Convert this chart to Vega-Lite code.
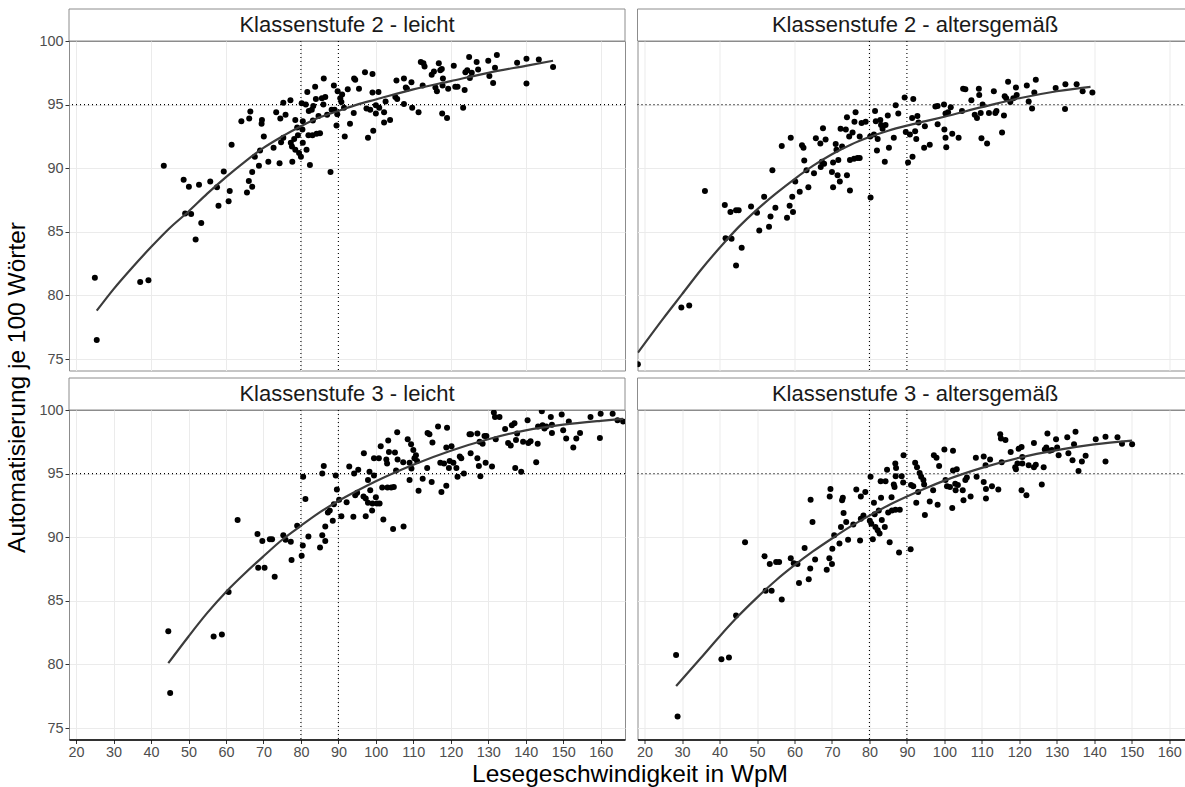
{
  "$schema": "https://vega.github.io/schema/vega-lite/v6.json",
  "padding": {"left": 4, "top": 8, "right": 0, "bottom": 0},
  "background": "white",
  "title": {"text": "Automatisierung je 100 Wörter", "orient": "left", "anchor": "middle", "fontSize": 24.5, "fontWeight": "normal", "color": "#000000", "offset": 8, "font": "Liberation Sans", "dx": 10},
  "config": {
    "font": "Liberation Sans",
    "view": {"stroke": "#8c8c8c", "strokeWidth": 1},
    "axis": {"gridColor": "#ebebeb", "gridWidth": 1, "labelColor": "#4d4d4d", "labelFontSize": 14.4, "labelFont": "Liberation Sans", "tickColor": "#333333", "tickSize": 4, "tickWidth": 1, "labelOverlap": false, "labelFlush": false, "labelBound": false, "labelSeparation": -30}
  },
  "datasets": {
    "vref": [{"x": 80}, {"x": 90}],
    "href": [{"y": 95}],
    "curves": [
      {"panel":"2L","x":25.5,"y":78.8},{"panel":"2L","x":30,"y":80.5},{"panel":"2L","x":35,"y":82.2},{"panel":"2L","x":40,"y":83.8},{"panel":"2L","x":45,"y":85.3},{"panel":"2L","x":50,"y":86.6},{"panel":"2L","x":55,"y":88.0},{"panel":"2L","x":60,"y":89.3},{"panel":"2L","x":65,"y":90.5},{"panel":"2L","x":70,"y":91.6},{"panel":"2L","x":75,"y":92.5},{"panel":"2L","x":80,"y":93.3},{"panel":"2L","x":85,"y":94.0},{"panel":"2L","x":90,"y":94.5},{"panel":"2L","x":95,"y":95.0},{"panel":"2L","x":100,"y":95.4},{"panel":"2L","x":110,"y":96.2},{"panel":"2L","x":120,"y":96.85},{"panel":"2L","x":130,"y":97.5},{"panel":"2L","x":140,"y":98.05},{"panel":"2L","x":147.3,"y":98.45},
      {"panel":"2A","x":18.2,"y":75.5},{"panel":"2A","x":25,"y":78.2},{"panel":"2A","x":30,"y":80.1},{"panel":"2A","x":35,"y":82.0},{"panel":"2A","x":41.4,"y":84.2},{"panel":"2A","x":45,"y":85.35},{"panel":"2A","x":50,"y":86.75},{"panel":"2A","x":55,"y":88.0},{"panel":"2A","x":60,"y":89.15},{"panel":"2A","x":65,"y":90.2},{"panel":"2A","x":70,"y":91.1},{"panel":"2A","x":75,"y":91.85},{"panel":"2A","x":80,"y":92.45},{"panel":"2A","x":85,"y":92.95},{"panel":"2A","x":90,"y":93.35},{"panel":"2A","x":95,"y":93.7},{"panel":"2A","x":100,"y":94.05},{"panel":"2A","x":110,"y":94.8},{"panel":"2A","x":120,"y":95.5},{"panel":"2A","x":130,"y":96.05},{"panel":"2A","x":139,"y":96.4},
      {"panel":"3L","x":44.6,"y":80.1},{"panel":"3L","x":50,"y":82.2},{"panel":"3L","x":55,"y":84.05},{"panel":"3L","x":60,"y":85.7},{"panel":"3L","x":65,"y":87.15},{"panel":"3L","x":70,"y":88.5},{"panel":"3L","x":75,"y":89.8},{"panel":"3L","x":80,"y":90.9},{"panel":"3L","x":85,"y":91.95},{"panel":"3L","x":90,"y":92.85},{"panel":"3L","x":95,"y":93.65},{"panel":"3L","x":100,"y":94.4},{"panel":"3L","x":110,"y":95.7},{"panel":"3L","x":120,"y":96.8},{"panel":"3L","x":130,"y":97.7},{"panel":"3L","x":140,"y":98.4},{"panel":"3L","x":150,"y":98.85},{"panel":"3L","x":160,"y":99.15},{"panel":"3L","x":166,"y":99.3},
      {"panel":"3A","x":28.4,"y":78.3},{"panel":"3A","x":35,"y":80.5},{"panel":"3A","x":40,"y":82.2},{"panel":"3A","x":45,"y":83.8},{"panel":"3A","x":50,"y":85.25},{"panel":"3A","x":55,"y":86.6},{"panel":"3A","x":60,"y":87.8},{"panel":"3A","x":65,"y":88.9},{"panel":"3A","x":70,"y":89.9},{"panel":"3A","x":75,"y":90.85},{"panel":"3A","x":80,"y":91.7},{"panel":"3A","x":85,"y":92.5},{"panel":"3A","x":90,"y":93.2},{"panel":"3A","x":95,"y":93.85},{"panel":"3A","x":100,"y":94.45},{"panel":"3A","x":110,"y":95.45},{"panel":"3A","x":120,"y":96.25},{"panel":"3A","x":130,"y":96.85},{"panel":"3A","x":140,"y":97.3},{"panel":"3A","x":150.1,"y":97.6}
    ],
    "points": [
      {"panel":"2L","x":25,"y":81.4},{"panel":"2L","x":25.5,"y":76.5},{"panel":"2L","x":37.1,"y":81.05},{"panel":"2L","x":39.3,"y":81.2},{"panel":"2L","x":43.4,"y":90.2},{"panel":"2L","x":48.7,"y":89.1},{"panel":"2L","x":50.1,"y":88.55},{"panel":"2L","x":49.1,"y":86.45},{"panel":"2L","x":50.7,"y":86.4},{"panel":"2L","x":51.9,"y":84.4},{"panel":"2L","x":52.8,"y":88.7},{"panel":"2L","x":53.4,"y":85.7},{"panel":"2L","x":55.8,"y":88.95},{"panel":"2L","x":57.6,"y":88.5},{"panel":"2L","x":59.4,"y":89.75},{"panel":"2L","x":58,"y":87.05},{"panel":"2L","x":60.7,"y":87.4},{"panel":"2L","x":61,"y":88.2},{"panel":"2L","x":61.5,"y":91.85},{"panel":"2L","x":64.1,"y":93.7},{"panel":"2L","x":65.6,"y":88.1},{"panel":"2L","x":66.1,"y":89},{"panel":"2L","x":66.5,"y":94.45},{"panel":"2L","x":66.2,"y":93.9},{"panel":"2L","x":67,"y":89.7},{"panel":"2L","x":67,"y":88.55},{"panel":"2L","x":67.7,"y":90.9},{"panel":"2L","x":68.8,"y":90.2},{"panel":"2L","x":69.1,"y":91.4},{"panel":"2L","x":69.6,"y":93.8},{"panel":"2L","x":69.5,"y":93.5},{"panel":"2L","x":70.1,"y":92.5},{"panel":"2L","x":71.3,"y":90.5},{"panel":"2L","x":72.7,"y":91.6},{"panel":"2L","x":73.4,"y":94.4},{"panel":"2L","x":74.3,"y":90.4},{"panel":"2L","x":74.5,"y":93.9},{"panel":"2L","x":75.3,"y":95.15},{"panel":"2L","x":75.9,"y":94.2},{"panel":"2L","x":74.7,"y":92.05},{"panel":"2L","x":75.3,"y":92.4},{"panel":"2L","x":77.2,"y":95.35},{"panel":"2L","x":77.3,"y":92},{"panel":"2L","x":77.7,"y":90.5},{"panel":"2L","x":78.2,"y":92.3},{"panel":"2L","x":78.5,"y":93.8},{"panel":"2L","x":79,"y":93.2},{"panel":"2L","x":77.6,"y":91.7},{"panel":"2L","x":78.5,"y":91.45},{"panel":"2L","x":79.5,"y":91.2},{"panel":"2L","x":79.2,"y":92.6},{"panel":"2L","x":80,"y":90.9},{"panel":"2L","x":80.2,"y":95.1},{"panel":"2L","x":80.5,"y":92},{"panel":"2L","x":80.4,"y":93.05},{"panel":"2L","x":80.5,"y":93.7},{"panel":"2L","x":81.3,"y":95},{"panel":"2L","x":81.5,"y":91.45},{"panel":"2L","x":81.7,"y":96},{"panel":"2L","x":82.1,"y":94.5},{"panel":"2L","x":82.4,"y":90.25},{"panel":"2L","x":82,"y":92.6},{"panel":"2L","x":82.9,"y":94.6},{"panel":"2L","x":83.1,"y":92.6},{"panel":"2L","x":83.2,"y":93.75},{"panel":"2L","x":83.3,"y":94.9},{"panel":"2L","x":83.8,"y":96.4},{"panel":"2L","x":84,"y":95.45},{"panel":"2L","x":84.2,"y":92.7},{"panel":"2L","x":84.7,"y":94.1},{"panel":"2L","x":85.1,"y":92.75},{"panel":"2L","x":85.6,"y":95.5},{"panel":"2L","x":86,"y":95},{"panel":"2L","x":86.1,"y":97.05},{"panel":"2L","x":86.5,"y":95.6},{"panel":"2L","x":87,"y":94.2},{"panel":"2L","x":87.9,"y":89.7},{"panel":"2L","x":88.2,"y":94.6},{"panel":"2L","x":88.8,"y":96.5},{"panel":"2L","x":89,"y":94.6},{"panel":"2L","x":89.5,"y":93.35},{"panel":"2L","x":89.7,"y":94.25},{"panel":"2L","x":89.8,"y":96.05},{"panel":"2L","x":90.5,"y":95.5},{"panel":"2L","x":91,"y":95.8},{"panel":"2L","x":90.8,"y":95.2},{"panel":"2L","x":91.5,"y":94.75},{"panel":"2L","x":91.7,"y":92.5},{"panel":"2L","x":92.5,"y":96.2},{"panel":"2L","x":93.1,"y":93.5},{"panel":"2L","x":94.2,"y":97.05},{"panel":"2L","x":94.5,"y":96.95},{"panel":"2L","x":94.1,"y":94.35},{"panel":"2L","x":95.5,"y":96.25},{"panel":"2L","x":97.1,"y":97.55},{"panel":"2L","x":97.5,"y":94.7},{"panel":"2L","x":97.9,"y":92.4},{"panel":"2L","x":98.5,"y":94.6},{"panel":"2L","x":99.1,"y":97.4},{"panel":"2L","x":99.3,"y":92.95},{"panel":"2L","x":99.1,"y":95.95},{"panel":"2L","x":100,"y":94.95},{"panel":"2L","x":100,"y":94.3},{"panel":"2L","x":100.7,"y":96},{"panel":"2L","x":100.9,"y":94.75},{"panel":"2L","x":102.2,"y":94.4},{"panel":"2L","x":102.2,"y":93.6},{"panel":"2L","x":102.6,"y":95.25},{"panel":"2L","x":103.8,"y":93.8},{"panel":"2L","x":105.2,"y":95.6},{"panel":"2L","x":105.5,"y":96.9},{"panel":"2L","x":105.7,"y":95.45},{"panel":"2L","x":107.5,"y":97.05},{"panel":"2L","x":107.5,"y":95.05},{"panel":"2L","x":108,"y":96.35},{"panel":"2L","x":108.3,"y":96.25},{"panel":"2L","x":109.5,"y":96.75},{"panel":"2L","x":109.7,"y":94.75},{"panel":"2L","x":111.4,"y":94.4},{"panel":"2L","x":112,"y":98.35},{"panel":"2L","x":112.7,"y":98.25},{"panel":"2L","x":113,"y":98},{"panel":"2L","x":112.5,"y":96.5},{"panel":"2L","x":114.9,"y":97.35},{"panel":"2L","x":115.5,"y":97.6},{"panel":"2L","x":115.9,"y":96.35},{"panel":"2L","x":116.3,"y":96.05},{"panel":"2L","x":116.8,"y":98.25},{"panel":"2L","x":117.2,"y":97.7},{"panel":"2L","x":117.6,"y":97.8},{"panel":"2L","x":117.9,"y":97.05},{"panel":"2L","x":117.7,"y":94.3},{"panel":"2L","x":117.8,"y":96.5},{"panel":"2L","x":119,"y":93.95},{"panel":"2L","x":119.3,"y":96.25},{"panel":"2L","x":120.8,"y":98.05},{"panel":"2L","x":121.2,"y":96.4},{"panel":"2L","x":121.8,"y":96.4},{"panel":"2L","x":123.3,"y":94.75},{"panel":"2L","x":123.7,"y":96.15},{"panel":"2L","x":123.9,"y":97.55},{"panel":"2L","x":124.4,"y":97.7},{"panel":"2L","x":124.9,"y":98.75},{"panel":"2L","x":125.1,"y":97.1},{"panel":"2L","x":125.6,"y":97.5},{"panel":"2L","x":126.9,"y":98.35},{"panel":"2L","x":127.3,"y":97.75},{"panel":"2L","x":130,"y":98.45},{"panel":"2L","x":130.3,"y":97.25},{"panel":"2L","x":131.3,"y":96.7},{"panel":"2L","x":131.8,"y":97.9},{"panel":"2L","x":132.3,"y":98.9},{"panel":"2L","x":137.7,"y":98.3},{"panel":"2L","x":140.2,"y":98.6},{"panel":"2L","x":140.2,"y":96.65},{"panel":"2L","x":143.5,"y":98.55},{"panel":"2L","x":147.3,"y":97.95},
      {"panel":"2A","x":18.2,"y":74.6},{"panel":"2A","x":29.8,"y":79.05},{"panel":"2A","x":31.9,"y":79.2},{"panel":"2A","x":36.1,"y":88.2},{"panel":"2A","x":41.4,"y":87.1},{"panel":"2A","x":42.9,"y":86.55},{"panel":"2A","x":44.4,"y":86.7},{"panel":"2A","x":45.1,"y":86.7},{"panel":"2A","x":41.6,"y":84.5},{"panel":"2A","x":43.2,"y":84.45},{"panel":"2A","x":45.9,"y":83.75},{"panel":"2A","x":44.4,"y":82.35},{"panel":"2A","x":48.4,"y":87},{"panel":"2A","x":50,"y":86.5},{"panel":"2A","x":50.6,"y":85.1},{"panel":"2A","x":51.9,"y":87.75},{"panel":"2A","x":53.2,"y":85.4},{"panel":"2A","x":53.6,"y":86.2},{"panel":"2A","x":54.1,"y":89.85},{"panel":"2A","x":54.9,"y":86.9},{"panel":"2A","x":56.6,"y":91.75},{"panel":"2A","x":59,"y":92.4},{"panel":"2A","x":58,"y":86.1},{"panel":"2A","x":58.7,"y":87.05},{"panel":"2A","x":59.4,"y":87.75},{"panel":"2A","x":59.6,"y":86.55},{"panel":"2A","x":60.2,"y":88.95},{"panel":"2A","x":61.4,"y":88.15},{"panel":"2A","x":62,"y":91.8},{"panel":"2A","x":62.4,"y":91.6},{"panel":"2A","x":62.6,"y":90.6},{"panel":"2A","x":63.2,"y":89.85},{"panel":"2A","x":63.7,"y":88.5},{"panel":"2A","x":65.2,"y":89.6},{"panel":"2A","x":65.7,"y":92.35},{"panel":"2A","x":66.9,"y":91.95},{"panel":"2A","x":67,"y":90.1},{"panel":"2A","x":67.3,"y":90.5},{"panel":"2A","x":67.9,"y":90.35},{"panel":"2A","x":68.3,"y":92.25},{"panel":"2A","x":67.6,"y":93.15},{"panel":"2A","x":70,"y":89.7},{"panel":"2A","x":70.3,"y":90.45},{"panel":"2A","x":70.3,"y":88.5},{"panel":"2A","x":71,"y":91.9},{"panel":"2A","x":71.2,"y":91.45},{"panel":"2A","x":71.5,"y":89.45},{"panel":"2A","x":71.7,"y":90.65},{"panel":"2A","x":72.1,"y":88.95},{"panel":"2A","x":72.3,"y":93.1},{"panel":"2A","x":72.7,"y":91.7},{"panel":"2A","x":73.7,"y":93.05},{"panel":"2A","x":74,"y":94},{"panel":"2A","x":74,"y":89.45},{"panel":"2A","x":74.8,"y":88.25},{"panel":"2A","x":74.6,"y":92.5},{"panel":"2A","x":74.8,"y":90.65},{"panel":"2A","x":75.5,"y":92.8},{"panel":"2A","x":76,"y":93.65},{"panel":"2A","x":76.3,"y":94.4},{"panel":"2A","x":75.9,"y":90.75},{"panel":"2A","x":76.8,"y":90.8},{"panel":"2A","x":77.4,"y":90.8},{"panel":"2A","x":77.9,"y":93.55},{"panel":"2A","x":79,"y":93.65},{"panel":"2A","x":77.4,"y":92.5},{"panel":"2A","x":80.3,"y":87.7},{"panel":"2A","x":80.2,"y":92.5},{"panel":"2A","x":81.5,"y":94.5},{"panel":"2A","x":81.2,"y":92.65},{"panel":"2A","x":81.7,"y":93.7},{"panel":"2A","x":82.2,"y":92.3},{"panel":"2A","x":82,"y":91.4},{"panel":"2A","x":82.9,"y":93.8},{"panel":"2A","x":83.1,"y":93.4},{"panel":"2A","x":83.5,"y":93.1},{"panel":"2A","x":84.1,"y":90.5},{"panel":"2A","x":84.3,"y":93.4},{"panel":"2A","x":84.9,"y":94.15},{"panel":"2A","x":85.2,"y":91.6},{"panel":"2A","x":86.5,"y":92.4},{"panel":"2A","x":87,"y":94.95},{"panel":"2A","x":87.7,"y":94.3},{"panel":"2A","x":89.4,"y":95.55},{"panel":"2A","x":89.7,"y":92.85},{"panel":"2A","x":90.3,"y":90.45},{"panel":"2A","x":90.8,"y":92.65},{"panel":"2A","x":91.4,"y":93.95},{"panel":"2A","x":91.5,"y":90.9},{"panel":"2A","x":91.7,"y":95.45},{"panel":"2A","x":92.2,"y":92.9},{"panel":"2A","x":92.8,"y":94.1},{"panel":"2A","x":93.1,"y":93.6},{"panel":"2A","x":92.5,"y":92.3},{"panel":"2A","x":94.6,"y":91.6},{"panel":"2A","x":94.8,"y":93.3},{"panel":"2A","x":96.1,"y":91.85},{"panel":"2A","x":97.6,"y":94.85},{"panel":"2A","x":98.2,"y":93.45},{"panel":"2A","x":98.2,"y":94.9},{"panel":"2A","x":99.9,"y":95},{"panel":"2A","x":100,"y":93.05},{"panel":"2A","x":100.3,"y":92.4},{"panel":"2A","x":100.5,"y":91.65},{"panel":"2A","x":100.3,"y":94.3},{"panel":"2A","x":101,"y":94.4},{"panel":"2A","x":101.7,"y":94.8},{"panel":"2A","x":102.1,"y":92.7},{"panel":"2A","x":103.8,"y":92.4},{"panel":"2A","x":104.7,"y":94.5},{"panel":"2A","x":105,"y":96.25},{"panel":"2A","x":105.6,"y":96.2},{"panel":"2A","x":107.2,"y":95.35},{"panel":"2A","x":108.1,"y":94.2},{"panel":"2A","x":108.7,"y":93.95},{"panel":"2A","x":109.2,"y":96.25},{"panel":"2A","x":109.7,"y":94.35},{"panel":"2A","x":109.3,"y":95.75},{"panel":"2A","x":110.2,"y":95},{"panel":"2A","x":109.9,"y":92.35},{"panel":"2A","x":111.4,"y":91.95},{"panel":"2A","x":111.9,"y":94.35},{"panel":"2A","x":113.2,"y":96.05},{"panel":"2A","x":113.6,"y":94.35},{"panel":"2A","x":113.9,"y":94.5},{"panel":"2A","x":115.4,"y":92.8},{"panel":"2A","x":115.9,"y":94.15},{"panel":"2A","x":116.1,"y":95.65},{"panel":"2A","x":116.5,"y":95.5},{"panel":"2A","x":117,"y":96.8},{"panel":"2A","x":117.6,"y":95.2},{"panel":"2A","x":118.4,"y":95.5},{"panel":"2A","x":119.1,"y":96.35},{"panel":"2A","x":119.3,"y":95.75},{"panel":"2A","x":122,"y":96.5},{"panel":"2A","x":122.5,"y":95.25},{"panel":"2A","x":123.4,"y":94.7},{"panel":"2A","x":124,"y":95.95},{"panel":"2A","x":124.4,"y":96.95},{"panel":"2A","x":129.7,"y":96.3},{"panel":"2A","x":132.2,"y":94.65},{"panel":"2A","x":132.3,"y":96.6},{"panel":"2A","x":135.3,"y":96.6},{"panel":"2A","x":136.9,"y":96.05},{"panel":"2A","x":139.5,"y":95.95},
      {"panel":"3L","x":44.6,"y":82.6},{"panel":"3L","x":45.1,"y":77.75},{"panel":"3L","x":56.7,"y":82.2},{"panel":"3L","x":58.9,"y":82.35},{"panel":"3L","x":60.7,"y":85.7},{"panel":"3L","x":63.1,"y":91.35},{"panel":"3L","x":68.4,"y":90.25},{"panel":"3L","x":68.6,"y":87.6},{"panel":"3L","x":69.7,"y":89.7},{"panel":"3L","x":70.3,"y":87.6},{"panel":"3L","x":71.7,"y":89.85},{"panel":"3L","x":72.3,"y":89.85},{"panel":"3L","x":73,"y":86.9},{"panel":"3L","x":75.3,"y":90.15},{"panel":"3L","x":75.9,"y":89.8},{"panel":"3L","x":77.3,"y":89.65},{"panel":"3L","x":77.5,"y":88.2},{"panel":"3L","x":79,"y":90.9},{"panel":"3L","x":80.2,"y":88.55},{"panel":"3L","x":80.5,"y":89.35},{"panel":"3L","x":80.6,"y":94.75},{"panel":"3L","x":81.2,"y":93},{"panel":"3L","x":82,"y":90.05},{"panel":"3L","x":85.1,"y":89.2},{"panel":"3L","x":85.7,"y":90.15},{"panel":"3L","x":86.5,"y":89.7},{"panel":"3L","x":86.5,"y":90.85},{"panel":"3L","x":85.7,"y":95},{"panel":"3L","x":86.1,"y":95.6},{"panel":"3L","x":87.2,"y":91.95},{"panel":"3L","x":87.7,"y":92.1},{"panel":"3L","x":88.5,"y":91.3},{"panel":"3L","x":88.8,"y":92.6},{"panel":"3L","x":89.3,"y":94.85},{"panel":"3L","x":89.6,"y":93.75},{"panel":"3L","x":90.2,"y":92.95},{"panel":"3L","x":90.8,"y":91.65},{"panel":"3L","x":92.2,"y":92.75},{"panel":"3L","x":92.9,"y":95.55},{"panel":"3L","x":94,"y":91.6},{"panel":"3L","x":94.2,"y":95},{"panel":"3L","x":94.5,"y":93.3},{"panel":"3L","x":95.3,"y":95.3},{"panel":"3L","x":95,"y":93.5},{"panel":"3L","x":96.8,"y":96.6},{"panel":"3L","x":96.7,"y":93.2},{"panel":"3L","x":97.3,"y":93.05},{"panel":"3L","x":97.3,"y":91.65},{"panel":"3L","x":97.9,"y":92.7},{"panel":"3L","x":97.9,"y":94.5},{"panel":"3L","x":98.3,"y":95.15},{"panel":"3L","x":98.5,"y":93.7},{"panel":"3L","x":99,"y":92.1},{"panel":"3L","x":99.1,"y":92.65},{"panel":"3L","x":99.5,"y":94.85},{"panel":"3L","x":99.5,"y":96.2},{"panel":"3L","x":100,"y":93.15},{"panel":"3L","x":100.3,"y":92.65},{"panel":"3L","x":100.8,"y":96.2},{"panel":"3L","x":101,"y":92.65},{"panel":"3L","x":101.3,"y":97.15},{"panel":"3L","x":101.7,"y":93.9},{"panel":"3L","x":102,"y":91.4},{"panel":"3L","x":102.8,"y":96.1},{"panel":"3L","x":103,"y":95.8},{"panel":"3L","x":103.1,"y":93.9},{"panel":"3L","x":103.3,"y":97.6},{"panel":"3L","x":103.5,"y":96.7},{"panel":"3L","x":104.1,"y":93.9},{"panel":"3L","x":104.6,"y":90.65},{"panel":"3L","x":104.8,"y":93.95},{"panel":"3L","x":105.1,"y":96.65},{"panel":"3L","x":105.4,"y":95.25},{"panel":"3L","x":105.7,"y":98.25},{"panel":"3L","x":105.8,"y":96.1},{"panel":"3L","x":107.3,"y":95.9},{"panel":"3L","x":107.4,"y":90.85},{"panel":"3L","x":108.5,"y":97.7},{"panel":"3L","x":109,"y":94.5},{"panel":"3L","x":109,"y":95.85},{"panel":"3L","x":109.4,"y":97.3},{"panel":"3L","x":109.5,"y":95.4},{"panel":"3L","x":110,"y":96.85},{"panel":"3L","x":110.3,"y":96.2},{"panel":"3L","x":110.7,"y":96.45},{"panel":"3L","x":111,"y":96},{"panel":"3L","x":111.4,"y":93.65},{"panel":"3L","x":112.5,"y":94.6},{"panel":"3L","x":113.7,"y":95.45},{"panel":"3L","x":113.8,"y":98.2},{"panel":"3L","x":114.3,"y":98.1},{"panel":"3L","x":114.9,"y":94.35},{"panel":"3L","x":115.1,"y":97.45},{"panel":"3L","x":116.6,"y":98.7},{"panel":"3L","x":117.2,"y":95.85},{"panel":"3L","x":117.5,"y":93.55},{"panel":"3L","x":118.2,"y":95.8},{"panel":"3L","x":118.8,"y":94.05},{"panel":"3L","x":118.8,"y":97.05},{"panel":"3L","x":119,"y":98.6},{"panel":"3L","x":119.5,"y":95.45},{"panel":"3L","x":119.7,"y":96},{"panel":"3L","x":120.2,"y":97.15},{"panel":"3L","x":120.7,"y":95.85},{"panel":"3L","x":121.5,"y":95.45},{"panel":"3L","x":121.8,"y":94.75},{"panel":"3L","x":122.4,"y":96.35},{"panel":"3L","x":122.8,"y":96.2},{"panel":"3L","x":123.5,"y":95},{"panel":"3L","x":125,"y":98.1},{"panel":"3L","x":125.3,"y":96.6},{"panel":"3L","x":125.4,"y":98.1},{"panel":"3L","x":127.1,"y":98.15},{"panel":"3L","x":127.1,"y":96.2},{"panel":"3L","x":127.5,"y":95.6},{"panel":"3L","x":127.7,"y":97.5},{"panel":"3L","x":127.9,"y":94.8},{"panel":"3L","x":128.5,"y":97.35},{"panel":"3L","x":129,"y":97.95},{"panel":"3L","x":129.3,"y":95.85},{"panel":"3L","x":129.5,"y":97.95},{"panel":"3L","x":131,"y":95.55},{"panel":"3L","x":131.5,"y":99.8},{"panel":"3L","x":131.8,"y":99.45},{"panel":"3L","x":132,"y":97.7},{"panel":"3L","x":133,"y":99.45},{"panel":"3L","x":134.5,"y":98.5},{"panel":"3L","x":135.3,"y":97.4},{"panel":"3L","x":136,"y":97.2},{"panel":"3L","x":136.3,"y":98.8},{"panel":"3L","x":137,"y":98.95},{"panel":"3L","x":137.2,"y":95.45},{"panel":"3L","x":137.4,"y":97.65},{"panel":"3L","x":137.7,"y":98.15},{"panel":"3L","x":138.8,"y":95.15},{"panel":"3L","x":139.3,"y":97.5},{"panel":"3L","x":140.5,"y":99.2},{"panel":"3L","x":140.7,"y":97.4},{"panel":"3L","x":141.3,"y":97.55},{"panel":"3L","x":142.8,"y":95.9},{"panel":"3L","x":143.2,"y":97.35},{"panel":"3L","x":143.3,"y":98.7},{"panel":"3L","x":144.3,"y":99.9},{"panel":"3L","x":144.5,"y":98.8},{"panel":"3L","x":145,"y":98.55},{"panel":"3L","x":145.5,"y":98.7},{"panel":"3L","x":146.7,"y":99.45},{"panel":"3L","x":147,"y":98.2},{"panel":"3L","x":147,"y":98.85},{"panel":"3L","x":149.6,"y":99.65},{"panel":"3L","x":150,"y":98.4},{"panel":"3L","x":150.8,"y":97.75},{"panel":"3L","x":151.5,"y":99.1},{"panel":"3L","x":152.7,"y":97.05},{"panel":"3L","x":153.5,"y":97.75},{"panel":"3L","x":154.5,"y":98.2},{"panel":"3L","x":157.3,"y":99.45},{"panel":"3L","x":159.8,"y":97.8},{"panel":"3L","x":160,"y":99.7},{"panel":"3L","x":163.2,"y":99.7},{"panel":"3L","x":164.5,"y":99.2},{"panel":"3L","x":166,"y":99.1},
      {"panel":"3A","x":28.4,"y":80.75},{"panel":"3A","x":28.8,"y":75.9},{"panel":"3A","x":40.5,"y":80.4},{"panel":"3A","x":42.5,"y":80.55},{"panel":"3A","x":44.4,"y":83.85},{"panel":"3A","x":46.8,"y":89.6},{"panel":"3A","x":52,"y":88.5},{"panel":"3A","x":52.3,"y":85.8},{"panel":"3A","x":53.4,"y":87.9},{"panel":"3A","x":53.9,"y":85.8},{"panel":"3A","x":55.1,"y":88.05},{"panel":"3A","x":55.9,"y":88.05},{"panel":"3A","x":56.6,"y":85.1},{"panel":"3A","x":59,"y":88.35},{"panel":"3A","x":59.8,"y":87.95},{"panel":"3A","x":60.8,"y":87.9},{"panel":"3A","x":61.2,"y":86.4},{"panel":"3A","x":62.7,"y":89.15},{"panel":"3A","x":63.8,"y":86.7},{"panel":"3A","x":64.2,"y":87.55},{"panel":"3A","x":64.3,"y":92.95},{"panel":"3A","x":64.8,"y":91.2},{"panel":"3A","x":65.5,"y":88.25},{"panel":"3A","x":68.6,"y":87.45},{"panel":"3A","x":69.3,"y":88.35},{"panel":"3A","x":70,"y":87.9},{"panel":"3A","x":70.1,"y":89.1},{"panel":"3A","x":69.4,"y":93.2},{"panel":"3A","x":69.6,"y":93.8},{"panel":"3A","x":70.6,"y":90.15},{"panel":"3A","x":72,"y":89.5},{"panel":"3A","x":72.4,"y":90.8},{"panel":"3A","x":72.7,"y":92.9},{"panel":"3A","x":72.9,"y":93.1},{"panel":"3A","x":73.1,"y":91.9},{"panel":"3A","x":73.8,"y":91.2},{"panel":"3A","x":74.3,"y":89.8},{"panel":"3A","x":75.7,"y":91},{"panel":"3A","x":76.5,"y":93.75},{"panel":"3A","x":77.5,"y":89.75},{"panel":"3A","x":77.7,"y":93.2},{"panel":"3A","x":77.7,"y":91.45},{"panel":"3A","x":78.9,"y":93.55},{"panel":"3A","x":78.4,"y":91.7},{"panel":"3A","x":80.1,"y":91.3},{"panel":"3A","x":80.3,"y":94.75},{"panel":"3A","x":80.5,"y":91.05},{"panel":"3A","x":80.9,"y":89.85},{"panel":"3A","x":81.2,"y":92.7},{"panel":"3A","x":81.4,"y":91.8},{"panel":"3A","x":81.6,"y":90.8},{"panel":"3A","x":82.2,"y":90.55},{"panel":"3A","x":82.5,"y":92.1},{"panel":"3A","x":82.7,"y":90.3},{"panel":"3A","x":83,"y":94.4},{"panel":"3A","x":83.1,"y":93.1},{"panel":"3A","x":83.3,"y":91.35},{"panel":"3A","x":84.1,"y":90.8},{"panel":"3A","x":84.3,"y":94.4},{"panel":"3A","x":84.7,"y":95.3},{"panel":"3A","x":85,"y":91.95},{"panel":"3A","x":85.4,"y":89.6},{"panel":"3A","x":85.9,"y":93.15},{"panel":"3A","x":86,"y":92.1},{"panel":"3A","x":86.5,"y":94.15},{"panel":"3A","x":86.7,"y":93.95},{"panel":"3A","x":86.9,"y":95.8},{"panel":"3A","x":86.95,"y":92.15},{"panel":"3A","x":87,"y":94.8},{"panel":"3A","x":87.1,"y":95.45},{"panel":"3A","x":87.9,"y":88.8},{"panel":"3A","x":88.1,"y":92.15},{"panel":"3A","x":88.6,"y":94.8},{"panel":"3A","x":89,"y":94.3},{"panel":"3A","x":89.1,"y":96.45},{"panel":"3A","x":91,"y":89.05},{"panel":"3A","x":91.1,"y":94.1},{"panel":"3A","x":91.7,"y":94},{"panel":"3A","x":92.2,"y":95.85},{"panel":"3A","x":92.7,"y":95.5},{"panel":"3A","x":92.5,"y":92.7},{"panel":"3A","x":93,"y":93.55},{"panel":"3A","x":93.4,"y":95.05},{"panel":"3A","x":93.8,"y":94.75},{"panel":"3A","x":94.4,"y":94.5},{"panel":"3A","x":94.6,"y":94.15},{"panel":"3A","x":94.8,"y":91.75},{"panel":"3A","x":96.1,"y":92.8},{"panel":"3A","x":97,"y":93.7},{"panel":"3A","x":97.2,"y":96.45},{"panel":"3A","x":97.9,"y":96.25},{"panel":"3A","x":98.2,"y":92.55},{"panel":"3A","x":98.6,"y":95.6},{"panel":"3A","x":100,"y":96.9},{"panel":"3A","x":100.3,"y":94.5},{"panel":"3A","x":100.7,"y":94},{"panel":"3A","x":101.5,"y":93.95},{"panel":"3A","x":102.1,"y":92.3},{"panel":"3A","x":102.3,"y":96.8},{"panel":"3A","x":102.3,"y":95.25},{"panel":"3A","x":102.9,"y":94.2},{"panel":"3A","x":103.3,"y":95.35},{"panel":"3A","x":103,"y":93.7},{"panel":"3A","x":103.6,"y":94.1},{"panel":"3A","x":104.9,"y":93.7},{"panel":"3A","x":105.1,"y":92.9},{"panel":"3A","x":105.6,"y":94.5},{"panel":"3A","x":106,"y":94.7},{"panel":"3A","x":107,"y":93.2},{"panel":"3A","x":108.4,"y":96.25},{"panel":"3A","x":108.6,"y":94.75},{"panel":"3A","x":110.5,"y":96.35},{"panel":"3A","x":110.5,"y":94.35},{"panel":"3A","x":111,"y":95.65},{"panel":"3A","x":111.1,"y":93.8},{"panel":"3A","x":111.1,"y":93.05},{"panel":"3A","x":112.2,"y":96.1},{"panel":"3A","x":112.7,"y":94},{"panel":"3A","x":114.4,"y":93.75},{"panel":"3A","x":114.9,"y":98.1},{"panel":"3A","x":115.1,"y":97.75},{"panel":"3A","x":115.3,"y":95.9},{"panel":"3A","x":116.3,"y":97.65},{"panel":"3A","x":117.7,"y":96.7},{"panel":"3A","x":118.9,"y":95.5},{"panel":"3A","x":119.1,"y":95.35},{"panel":"3A","x":119.5,"y":95.8},{"panel":"3A","x":119.8,"y":96.95},{"panel":"3A","x":120.6,"y":97.1},{"panel":"3A","x":120.6,"y":93.7},{"panel":"3A","x":120.8,"y":96.3},{"panel":"3A","x":120.8,"y":95.8},{"panel":"3A","x":121.9,"y":93.3},{"panel":"3A","x":122.5,"y":95.65},{"panel":"3A","x":123.9,"y":97.4},{"panel":"3A","x":123.9,"y":95.5},{"panel":"3A","x":124.4,"y":95.7},{"panel":"3A","x":126,"y":94.15},{"panel":"3A","x":126.5,"y":95.5},{"panel":"3A","x":126.8,"y":96.9},{"panel":"3A","x":127.2,"y":97.05},{"panel":"3A","x":127.5,"y":98.15},{"panel":"3A","x":128.1,"y":96.8},{"panel":"3A","x":128.7,"y":96.85},{"panel":"3A","x":129.8,"y":97.7},{"panel":"3A","x":130.1,"y":97.05},{"panel":"3A","x":130.5,"y":96.45},{"panel":"3A","x":132.8,"y":97.85},{"panel":"3A","x":133.1,"y":96.6},{"panel":"3A","x":134.2,"y":96.05},{"panel":"3A","x":134.6,"y":97.3},{"panel":"3A","x":135,"y":98.3},{"panel":"3A","x":135.8,"y":95.2},{"panel":"3A","x":136.7,"y":95.95},{"panel":"3A","x":137.7,"y":96.4},{"panel":"3A","x":140.4,"y":97.7},{"panel":"3A","x":143,"y":97.9},{"panel":"3A","x":143,"y":95.95},{"panel":"3A","x":146.2,"y":97.85},{"panel":"3A","x":147.4,"y":97.35},{"panel":"3A","x":150.1,"y":97.3}
    ]
  },
  "spacing": 5,
  "vconcat": [
    {
      "spacing": 8.5,
      "hconcat": [
        {
          "spacing": 0, "bounds": "flush",
          "vconcat": [
            {"data": {"values": [{"panel": "Klassenstufe 2 - leicht"}]}, "width": 556, "height": 32, "layer": [
              {"mark": {"type": "rect", "fill": "white", "stroke": "#8c8c8c", "strokeWidth": 1}, "encoding": {}},
              {"mark": {"type": "text", "fontSize": 22, "color": "#1a1a1a", "align": "center", "baseline": "middle"}, "encoding": {"text": {"field": "panel", "type": "nominal"}}}
            ]},
            {
              "width": 556, "height": 329.5,
              "layer": [
                {"data": {"name": "vref"}, "mark": {"type": "rule", "color": "#000000", "strokeWidth": 1.1, "strokeDash": [1, 3]}, "encoding": {"x": {"field": "x", "type": "quantitative", "scale": {"domain": [18.1, 166.5], "nice": false, "zero": false}, "axis": {"values": [20,30,40,50,60,70,80,90,100,110,120,130,140,150,160], "title": null, "grid": true, "labels": false, "ticks": false, "domain": false}}}},
                {"data": {"name": "href"}, "mark": {"type": "rule", "color": "#000000", "strokeWidth": 1.1, "strokeDash": [1, 3]}, "encoding": {"y": {"field": "y", "type": "quantitative", "scale": {"domain": [74.1, 100], "nice": false, "zero": false}, "axis": {"values": [75,77.5,80,82.5,85,87.5,90,92.5,95,97.5,100], "title": null, "grid": true, "gridColor": {"condition": {"test": "datum.value === 100", "value": "rgba(0,0,0,0)"}, "value": "#ebebeb"}, "domain": false, "ticks": true, "tickColor": {"condition": {"test": "datum.value % 5 === 0", "value": "#333333"}, "value": "rgba(0,0,0,0)"}, "labelExpr": "datum.value % 5 === 0 ? format(datum.value, 'd') : ''", "labelPadding": 2}}}},
                {"data": {"name": "points"}, "transform": [{"filter": "datum.panel === '2L'"}], "mark": {"type": "circle", "size": 36, "color": "#000000", "opacity": 1, "clip": true}, "encoding": {"x": {"field": "x", "type": "quantitative"}, "y": {"field": "y", "type": "quantitative"}}},
                {"data": {"name": "curves"}, "transform": [{"filter": "datum.panel === '2L'"}], "mark": {"type": "line", "color": "#3c3c3c", "strokeWidth": 2.2, "clip": true, "interpolate": "monotone"}, "encoding": {"x": {"field": "x", "type": "quantitative"}, "y": {"field": "y", "type": "quantitative"}}}
              ]
            }
          ]
        },
        {
          "spacing": 0, "bounds": "flush",
          "vconcat": [
            {"data": {"values": [{"panel": "Klassenstufe 2 - altersgemäß"}]}, "width": 549, "height": 32, "layer": [
              {"mark": {"type": "rect", "fill": "white", "stroke": "#8c8c8c", "strokeWidth": 1}, "encoding": {}},
              {"mark": {"type": "text", "fontSize": 22, "color": "#1a1a1a", "align": "center", "baseline": "middle", "dx": 3}, "encoding": {"text": {"field": "panel", "type": "nominal"}}}
            ]},
            {
              "width": 549, "height": 329.5,
              "layer": [
                {"data": {"name": "vref"}, "mark": {"type": "rule", "color": "#000000", "strokeWidth": 1.1, "strokeDash": [1, 3]}, "encoding": {"x": {"field": "x", "type": "quantitative", "scale": {"domain": [18.1, 164.62], "nice": false, "zero": false}, "axis": {"values": [20,30,40,50,60,70,80,90,100,110,120,130,140,150,160], "title": null, "grid": true, "labels": false, "ticks": false, "domain": false}}}},
                {"data": {"name": "href"}, "mark": {"type": "rule", "color": "#000000", "strokeWidth": 1.1, "strokeDash": [1, 3]}, "encoding": {"y": {"field": "y", "type": "quantitative", "scale": {"domain": [74.1, 100], "nice": false, "zero": false}, "axis": {"values": [75,77.5,80,82.5,85,87.5,90,92.5,95,97.5,100], "title": null, "grid": true, "gridColor": {"condition": {"test": "datum.value === 100", "value": "rgba(0,0,0,0)"}, "value": "#ebebeb"}, "labels": false, "ticks": false, "domain": false}}}},
                {"data": {"name": "points"}, "transform": [{"filter": "datum.panel === '2A'"}], "mark": {"type": "circle", "size": 36, "color": "#000000", "opacity": 1, "clip": true}, "encoding": {"x": {"field": "x", "type": "quantitative"}, "y": {"field": "y", "type": "quantitative"}}},
                {"data": {"name": "curves"}, "transform": [{"filter": "datum.panel === '2A'"}], "mark": {"type": "line", "color": "#3c3c3c", "strokeWidth": 2.2, "clip": true, "interpolate": "monotone"}, "encoding": {"x": {"field": "x", "type": "quantitative"}, "y": {"field": "y", "type": "quantitative"}}}
              ]
            }
          ]
        }
      ]
    },
    {
      "spacing": 8.5,
      "title": {"text": "Lesegeschwindigkeit in WpM", "orient": "bottom", "anchor": "middle", "fontSize": 24.5, "fontWeight": "normal", "color": "#000000", "offset": 4, "font": "Liberation Sans", "frame": "bounds", "dx": 17},
      "hconcat": [
        {
          "spacing": 0, "bounds": "flush",
          "vconcat": [
            {"data": {"values": [{"panel": "Klassenstufe 3 - leicht"}]}, "width": 556, "height": 32, "layer": [
              {"mark": {"type": "rect", "fill": "white", "stroke": "#8c8c8c", "strokeWidth": 1}, "encoding": {}},
              {"mark": {"type": "text", "fontSize": 22, "color": "#1a1a1a", "align": "center", "baseline": "middle"}, "encoding": {"text": {"field": "panel", "type": "nominal"}}}
            ]},
            {
              "width": 556, "height": 329.5,
              "layer": [
                {"data": {"name": "vref"}, "mark": {"type": "rule", "color": "#000000", "strokeWidth": 1.1, "strokeDash": [1, 3]}, "encoding": {"x": {"field": "x", "type": "quantitative", "scale": {"domain": [18.1, 166.5], "nice": false, "zero": false}, "axis": {"values": [20,30,40,50,60,70,80,90,100,110,120,130,140,150,160], "title": null, "grid": true, "domain": true, "domainColor": "#000000", "domainWidth": 1.3, "ticks": true, "labelPadding": 1.5, "labelOverlap": false, "labelSeparation": -30, "tickCount": 15}}}},
                {"data": {"name": "href"}, "mark": {"type": "rule", "color": "#000000", "strokeWidth": 1.1, "strokeDash": [1, 3]}, "encoding": {"y": {"field": "y", "type": "quantitative", "scale": {"domain": [74.1, 100], "nice": false, "zero": false}, "axis": {"values": [75,77.5,80,82.5,85,87.5,90,92.5,95,97.5,100], "title": null, "grid": true, "gridColor": {"condition": {"test": "datum.value === 100", "value": "rgba(0,0,0,0)"}, "value": "#ebebeb"}, "domain": false, "ticks": true, "tickColor": {"condition": {"test": "datum.value % 5 === 0", "value": "#333333"}, "value": "rgba(0,0,0,0)"}, "labelExpr": "datum.value % 5 === 0 ? format(datum.value, 'd') : ''", "labelPadding": 2}}}},
                {"data": {"name": "points"}, "transform": [{"filter": "datum.panel === '3L'"}], "mark": {"type": "circle", "size": 36, "color": "#000000", "opacity": 1, "clip": true}, "encoding": {"x": {"field": "x", "type": "quantitative", "axis": {"values": [20,30,40,50,60,70,80,90,100,110,120,130,140,150,160], "title": null, "grid": true, "domain": true, "domainColor": "#000000", "domainWidth": 1.3, "ticks": true, "labelPadding": 1.5, "labelOverlap": false, "labelSeparation": -30, "tickCount": 15}}, "y": {"field": "y", "type": "quantitative"}}},
                {"data": {"name": "curves"}, "transform": [{"filter": "datum.panel === '3L'"}], "mark": {"type": "line", "color": "#3c3c3c", "strokeWidth": 2.2, "clip": true, "interpolate": "monotone"}, "encoding": {"x": {"field": "x", "type": "quantitative", "axis": {"values": [20,30,40,50,60,70,80,90,100,110,120,130,140,150,160], "title": null, "grid": true, "domain": true, "domainColor": "#000000", "domainWidth": 1.3, "ticks": true, "labelPadding": 1.5, "labelOverlap": false, "labelSeparation": -30, "tickCount": 15}}, "y": {"field": "y", "type": "quantitative"}}}
              ]
            }
          ]
        },
        {
          "spacing": 0, "bounds": "flush",
          "vconcat": [
            {"data": {"values": [{"panel": "Klassenstufe 3 - altersgemäß"}]}, "width": 549, "height": 32, "layer": [
              {"mark": {"type": "rect", "fill": "white", "stroke": "#8c8c8c", "strokeWidth": 1}, "encoding": {}},
              {"mark": {"type": "text", "fontSize": 22, "color": "#1a1a1a", "align": "center", "baseline": "middle", "dx": 3}, "encoding": {"text": {"field": "panel", "type": "nominal"}}}
            ]},
            {
              "width": 549, "height": 329.5,
              "layer": [
                {"data": {"name": "vref"}, "mark": {"type": "rule", "color": "#000000", "strokeWidth": 1.1, "strokeDash": [1, 3]}, "encoding": {"x": {"field": "x", "type": "quantitative", "scale": {"domain": [18.1, 164.62], "nice": false, "zero": false}, "axis": {"values": [20,30,40,50,60,70,80,90,100,110,120,130,140,150,160], "title": null, "grid": true, "domain": true, "domainColor": "#000000", "domainWidth": 1.3, "ticks": true, "labelPadding": 1.5, "labelOverlap": false, "labelSeparation": -30, "tickCount": 15}}}},
                {"data": {"name": "href"}, "mark": {"type": "rule", "color": "#000000", "strokeWidth": 1.1, "strokeDash": [1, 3]}, "encoding": {"y": {"field": "y", "type": "quantitative", "scale": {"domain": [74.1, 100], "nice": false, "zero": false}, "axis": {"values": [75,77.5,80,82.5,85,87.5,90,92.5,95,97.5,100], "title": null, "grid": true, "gridColor": {"condition": {"test": "datum.value === 100", "value": "rgba(0,0,0,0)"}, "value": "#ebebeb"}, "labels": false, "ticks": false, "domain": false}}}},
                {"data": {"name": "points"}, "transform": [{"filter": "datum.panel === '3A'"}], "mark": {"type": "circle", "size": 36, "color": "#000000", "opacity": 1, "clip": true}, "encoding": {"x": {"field": "x", "type": "quantitative", "axis": {"values": [20,30,40,50,60,70,80,90,100,110,120,130,140,150,160], "title": null, "grid": true, "domain": true, "domainColor": "#000000", "domainWidth": 1.3, "ticks": true, "labelPadding": 1.5, "labelOverlap": false, "labelSeparation": -30, "tickCount": 15}}, "y": {"field": "y", "type": "quantitative"}}},
                {"data": {"name": "curves"}, "transform": [{"filter": "datum.panel === '3A'"}], "mark": {"type": "line", "color": "#3c3c3c", "strokeWidth": 2.2, "clip": true, "interpolate": "monotone"}, "encoding": {"x": {"field": "x", "type": "quantitative", "axis": {"values": [20,30,40,50,60,70,80,90,100,110,120,130,140,150,160], "title": null, "grid": true, "domain": true, "domainColor": "#000000", "domainWidth": 1.3, "ticks": true, "labelPadding": 1.5, "labelOverlap": false, "labelSeparation": -30, "tickCount": 15}}, "y": {"field": "y", "type": "quantitative"}}}
              ]
            }
          ]
        }
      ]
    }
  ]
}
